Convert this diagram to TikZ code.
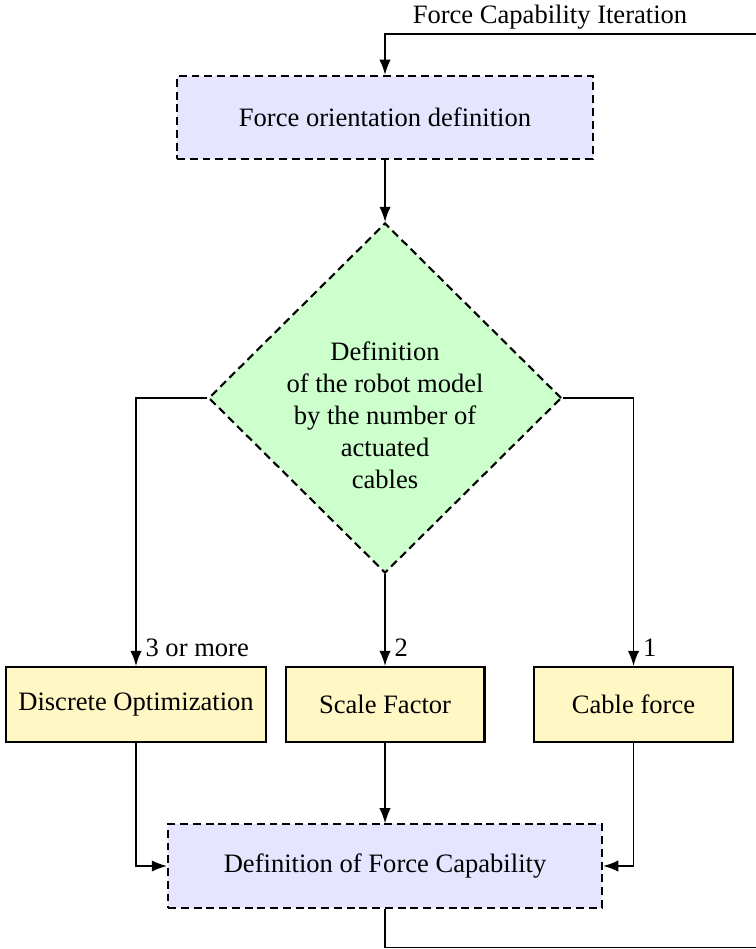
\documentclass[tikz,border=0pt]{standalone}
\usepackage{fontspec}
\setmainfont{Liberation Serif}
\usetikzlibrary{arrows.meta, shapes.geometric}
\definecolor{methodyellow}{RGB}{255,247,196}

\begin{document}
\begin{tikzpicture}[
  >={Latex},
  flowbox/.style={rectangle, draw, thick, dash pattern=on 3pt off 1.8pt,
                  fill=blue!10, minimum height=1.1cm},
  decision/.style={diamond, draw, thick, dash pattern=on 3pt off 1.8pt,
                   fill=green!20, minimum width=4.67cm, minimum height=4.63cm,
                   inner sep=0pt, aspect=1},
  method/.style={rectangle, draw, thick, fill=methodyellow,
                 minimum width=2.63cm, minimum height=0.99cm, inner sep=4.5pt},
  line/.style={->, semithick},
  branch/.style={above right, inner sep=3.3pt}
]

\def\ytop{-1.554} \def\ydec{-5.265} \def\yrow{-9.319} \def\ybot{-11.455}

\useasboundingbox (0,0) rectangle (10,-12.553);

\node[flowbox, minimum width=5.503cm] (forient) at (5.093,\ytop) {Force orientation definition};
\node[decision] (model) at (5.093,\ydec) {};
\node[align=center] (modeltext) at (5.093,\ydec-0.225)
  {Definition\\of the robot model\\by the number of\\actuated\\cables};

\node[method] (discrete) at (1.799,\yrow) {Discrete Optimization};
\node[method] (scale) at (5.093,\yrow) {Scale Factor};
\node[method] (cable) at (8.380,\yrow) {Cable force};

\node[flowbox, minimum width=5.741cm] (defcap) at (5.093,\ybot) {Definition of Force Capability};

% return loop, its right side lies just outside the picture
\coordinate (loopbot) at (10.05,-12.535);
\coordinate (looptop) at (10.05,-0.450);

\draw[line] (forient) -- (model);
\draw[line] (model.west) -| node[branch, pos=1] (lblmany) {3 or more} (discrete.north);
\draw[line] (model) -- node[branch, pos=1] (lbltwo) {2} (scale);
\draw[line] (model.east) -| node[branch, pos=1] (lblone) {1} (cable.north);

\draw[line] (discrete.south) |- (defcap.west);
\draw[line] (scale) -- (defcap);
\draw[line] (cable.south) |- (defcap.east);

\draw[line] (defcap.south) |- (loopbot) -- (looptop) -| (forient.north);
\node[anchor=base] (iterlabel) at (7.275,-0.317) {Force Capability Iteration};

\end{tikzpicture}
\end{document}
